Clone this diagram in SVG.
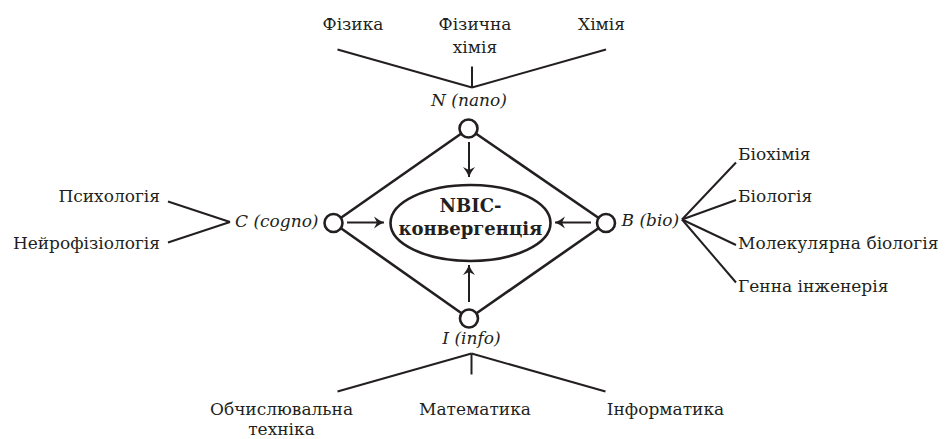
<svg xmlns="http://www.w3.org/2000/svg" width="946" height="439" viewBox="0 0 946 439">
<style>
.t{font-family:"DejaVu Serif","Liberation Serif",serif;font-size:17px;fill:#231f20}
.i{font-family:"DejaVu Serif","Liberation Serif",serif;font-size:17px;font-style:italic;fill:#231f20}
.b{font-family:"DejaVu Serif","Liberation Serif",serif;font-size:18px;font-weight:bold;fill:#231f20}
.m{text-anchor:middle}
.e{text-anchor:end}
.br{stroke:#231f20;stroke-width:2;fill:none}
.dm{stroke:#231f20;stroke-width:2.6;fill:none}
.ar{stroke:#231f20;stroke-width:2;fill:none}
.nd{stroke:#231f20;stroke-width:2.6;fill:#fff}
</style>
<defs>
<marker id="ah" markerWidth="12" markerHeight="14" refX="10" refY="6.5" orient="auto" markerUnits="userSpaceOnUse">
<path d="M0,0.5 Q5,4.5 10,6.5 Q5,8.5 0,12.5 L3,6.5 Z" fill="#231f20"/>
</marker>
</defs>
<rect width="946" height="439" fill="#fff"/>
<g id="connectors">
<line class="dm" x1="468.5" y1="128.5" x2="333.5" y2="223"/>
<line class="dm" x1="468.5" y1="128.5" x2="606" y2="223"/>
<line class="dm" x1="469" y1="318.5" x2="333.5" y2="223"/>
<line class="dm" x1="469" y1="318.5" x2="606" y2="223"/>
<line class="ar" x1="469" y1="142" x2="469" y2="177" marker-end="url(#ah)"/>
<line class="ar" x1="347" y1="222.5" x2="384" y2="222.5" marker-end="url(#ah)"/>
<line class="ar" x1="591" y1="222.5" x2="555" y2="222.5" marker-end="url(#ah)"/>
<line class="ar" x1="469" y1="302" x2="469" y2="265" marker-end="url(#ah)"/>
<line class="br" x1="337.5" y1="49.5" x2="472" y2="87.5"/>
<line class="br" x1="472" y1="87.5" x2="606" y2="49.5"/>
<line class="br" x1="472" y1="66.5" x2="472" y2="87.5"/>
<line class="br" x1="168" y1="201.5" x2="230" y2="222"/>
<line class="br" x1="168" y1="242.5" x2="230" y2="222"/>
<line class="br" x1="682" y1="219.5" x2="736" y2="162.5"/>
<line class="br" x1="682" y1="219.5" x2="736" y2="200"/>
<line class="br" x1="682" y1="219.5" x2="736" y2="245"/>
<line class="br" x1="682" y1="219.5" x2="736" y2="282.5"/>
<line class="br" x1="471.5" y1="353.5" x2="337.5" y2="391.5"/>
<line class="br" x1="471.5" y1="353.5" x2="605.5" y2="391.5"/>
<line class="br" x1="471.5" y1="353.5" x2="471.5" y2="374.5"/>
</g>
<g id="center">
<ellipse cx="470.5" cy="223" rx="80" ry="38" class="dm"/>
<text class="b m" x="470.5" y="212">NBIC-</text>
<text class="b m" x="470.5" y="234.5">конвергенція</text>
</g>
<g id="node-n">
<circle class="nd" cx="468.5" cy="128.5" r="9"/>
<text class="i m" x="469" y="106">N (nano)</text>
</g>
<g id="node-c">
<circle class="nd" cx="333.5" cy="223" r="9"/>
<text class="i" x="235" y="227">C (cogno)</text>
</g>
<g id="node-b">
<circle class="nd" cx="606" cy="223" r="9"/>
<text class="i" x="621.5" y="226">B (bio)</text>
</g>
<g id="node-i">
<circle class="nd" cx="469" cy="318.5" r="9"/>
<text class="i m" x="471.5" y="344">I (info)</text>
</g>
<g id="n-fields">
<text class="t m" x="353" y="30">Фізика</text>
<text class="t m" x="475" y="30">Фізична</text>
<text class="t m" x="475" y="52.5">хімія</text>
<text class="t m" x="601.5" y="30">Хімія</text>
</g>
<g id="c-fields">
<text class="t e" x="160" y="202">Психологія</text>
<text class="t e" x="160" y="249">Нейрофізіологія</text>
</g>
<g id="b-fields">
<text class="t" x="738" y="160">Біохімія</text>
<text class="t" x="738" y="201.5">Біологія</text>
<text class="t" x="738" y="249">Молекулярна біологія</text>
<text class="t" x="738" y="291.5">Генна інженерія</text>
</g>
<g id="i-fields">
<text class="t m" x="281.5" y="415">Обчислювальна</text>
<text class="t m" x="281.5" y="435">техніка</text>
<text class="t m" x="475" y="415">Математика</text>
<text class="t m" x="665.5" y="415">Інформатика</text>
</g>
</svg>
